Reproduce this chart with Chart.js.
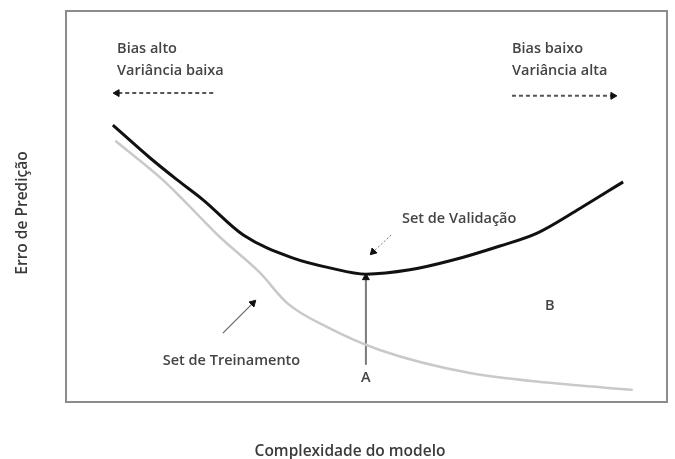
<!DOCTYPE html>
<html>
<head>
<meta charset="utf-8">
<script src="https://cdn.jsdelivr.net/npm/chart.js@4"></script>
<style>
  html, body { margin: 0; padding: 0; background: #fff; }
  #grafico { display: block; }
</style>
</head>
<body>
<canvas id="grafico" width="675" height="459"></canvas>
<script>
// curva de validação (preta)
const complexidadeVal = [0.78, 1.40, 1.85, 2.28, 2.95, 3.78, 4.39, 4.99, 5.72, 6.44, 7.22, 7.84, 8.55, 9.27];
const erroVal = [7.08, 6.24, 5.68, 5.17, 4.27, 3.68, 3.43, 3.27, 3.38, 3.63, 3.99, 4.32, 4.95, 5.63];

// curva de treinamento (cinza)
const complexidadeTr = [0.82, 1.61, 1.95, 2.56, 3.23, 3.68, 4.34, 5.22, 6.72, 8.05, 9.43];
const erroTr = [6.68, 5.68, 5.17, 4.22, 3.30, 2.53, 1.92, 1.33, 0.74, 0.49, 0.31];

// setas: [x inicial, x final], [y inicial, y final]
const setaA_x = [4.99, 4.99];
const setaA_y = [0.95, 3.18];
const setaEsq_x = [2.45, 0.85];
const setaEsq_y = [7.90, 7.90];
const setaDir_x = [7.42, 9.10];
const setaDir_y = [7.83, 7.83];
const setaVal_x = [5.41, 5.11];
const setaVal_y = [4.27, 3.84];
const setaTr_x = [2.61, 3.11];
const setaTr_y = [1.76, 2.53];

// textos dentro do gráfico
const rotulos = ['Bias alto', 'Variância baixa', 'Bias baixo', 'Variância alta', 'Set de Validação', 'Set de Treinamento', 'A', 'B'];
const rotulosX = [0.85, 0.85, 7.42, 7.42, 5.59, 1.61, 4.99, 8.05];
const rotulosY = [9.03, 8.47, 9.03, 8.47, 4.68, 1.05, 0.61, 2.46];
const rotulosAlinha = ['left', 'left', 'left', 'left', 'left', 'left', 'center', 'center'];

const tituloX = 'Complexidade do modelo';
const tituloY = 'Erro de Predição';

function pontos(xs, ys) {
  return xs.map((x, i) => ({ x: x, y: ys[i] }))
}

function seta(xs, ys, cor, largura, rot, tracejado) {
  return {
    data: pontos(xs, ys),
    showLine: true,
    borderColor: cor,
    borderWidth: largura,
    borderDash: tracejado || [],
    pointStyle: 'triangle',
    pointRadius: [0, 4],
    pointBackgroundColor: '#111',
    pointBorderColor: '#111',
    pointBorderWidth: 1,
    rotation: rot,
    tension: 0
  }
}

const moldura = {
  id: 'moldura',
  afterDraw(chart) {
    const { ctx, chartArea: a } = chart;
    ctx.save();
    ctx.strokeStyle = '#8c8c8c';
    ctx.lineWidth = 2;
    ctx.strokeRect(a.left, a.top, a.right - a.left, a.bottom - a.top);
    ctx.restore();
  }
}

const textos = {
  id: 'textos',
  afterDatasetsDraw(chart) {
    const { ctx } = chart;
    const sx = chart.scales.x, sy = chart.scales.y;
    ctx.save();
    ctx.fillStyle = '#444';
    ctx.textBaseline = 'middle';
    ctx.font = '600 14.5px "Open Sans"';
    for (let i = 0; i < rotulos.length; i++) {
      ctx.textAlign = rotulosAlinha[i];
      ctx.fillText(rotulos[i], sx.getPixelForValue(rotulosX[i]), sy.getPixelForValue(rotulosY[i]));
    }
    ctx.font = '600 15.5px "Open Sans"';
    ctx.fillStyle = '#3a3a3a';
    ctx.textAlign = 'center';
    ctx.fillText(tituloX, 350, 452);
    ctx.translate(23, 213);
    ctx.rotate(-Math.PI / 2);
    ctx.fillText(tituloY, 0, 0);
    ctx.restore();
  }
}

new Chart(document.getElementById('grafico'), {
  type: 'scatter',
  data: {
    datasets: [
      {
        data: pontos(complexidadeTr, erroTr),
        showLine: true,
        borderColor: '#c9c9c9',
        borderWidth: 2.5,
        pointRadius: 0,
        cubicInterpolationMode: 'monotone'
      },
      {
        data: pontos(complexidadeVal, erroVal),
        showLine: true,
        borderColor: '#111',
        borderWidth: 3,
        pointRadius: 0,
        cubicInterpolationMode: 'monotone'
      },
      seta(setaA_x, setaA_y, '#7a7a7a', 2, 0),
      seta(setaEsq_x, setaEsq_y, '#555', 2, 270, [4, 3]),
      seta(setaDir_x, setaDir_y, '#555', 2, 90, [4, 3]),
      seta(setaVal_x, setaVal_y, '#777', 1, 225, [2, 2]),
      seta(setaTr_x, setaTr_y, '#666', 1.2, 45)
    ]
  },
  options: {
    responsive: false,
    animation: false,
    events: [],
    layout: { padding: { left: 66, top: 11, right: 8, bottom: 57 } },
    plugins: {
      legend: { display: false },
      tooltip: { enabled: false }
    },
    scales: {
      x: { type: 'linear', min: 0, max: 10, display: false },
      y: { type: 'linear', min: 0, max: 10, display: false }
    }
  },
  plugins: [moldura, textos]
});
</script>
</body>
</html>
